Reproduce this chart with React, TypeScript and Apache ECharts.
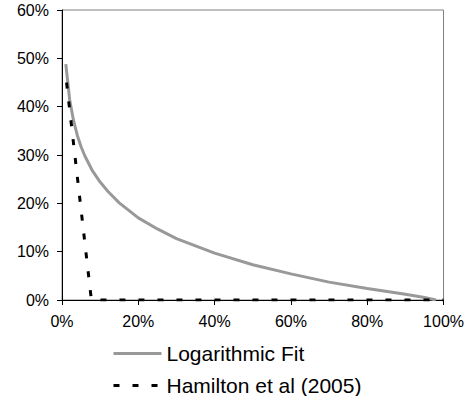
import React, { useEffect, useRef } from "react";
import * as echarts from "echarts";

const xTicks = [0, 20, 40, 60, 80, 100];
const yTicks = [0, 10, 20, 30, 40, 50, 60];

const logFitX = [1, 2, 3, 4, 5, 6, 8, 10, 12, 15, 20, 25, 30, 40, 50, 60, 70, 80, 90, 95, 98];
const logFitY = [48.8, 41.5, 37.2, 34.1, 31.7, 29.8, 26.7, 24.4, 22.5, 20.1, 17.0, 14.7, 12.7, 9.7, 7.3, 5.4, 3.7, 2.4, 1.2, 0.5, 0];

const hamiltonX = [1.2, 7.7, 100];
const hamiltonY = [45, 0, 0];

const seriesNames = ["Logarithmic Fit", "Hamilton et al (2005)"];

const FONT = "Arial, 'Liberation Sans', sans-serif";

function legendFor(name: string, top: number) {
  return {
    orient: "vertical",
    left: 107,
    top,
    itemWidth: 48,
    itemHeight: 14,
    itemGap: 0,
    itemStyle: { opacity: 0 },
    lineStyle: { width: 3 },
    textStyle: { fontSize: 21, fontFamily: FONT, color: "#000" },
    data: [name],
  };
}

export default function App() {
  const ref = useRef<HTMLDivElement>(null);
  useEffect(() => {
    if (!ref.current) return;
    const chart = echarts.init(ref.current, undefined, { renderer: "svg" });
    chart.setOption({
      animation: false,
      backgroundColor: "#ffffff",
      grid: {
        left: 62,
        right: 18,
        top: 10,
        bottom: 96,
        show: true,
        borderColor: "#808080",
        borderWidth: 1,
      },
      xAxis: {
        type: "value",
        min: xTicks[0],
        max: xTicks[xTicks.length - 1],
        interval: 20,
        axisLine: { show: true, lineStyle: { color: "#000", width: 1 } },
        axisTick: { show: true, length: 5, lineStyle: { color: "#000" } },
        splitLine: { show: false },
        axisLabel: {
          formatter: "{value}%",
          color: "#000",
          fontSize: 16,
          fontFamily: FONT,
          margin: 13,
        },
      },
      yAxis: {
        type: "value",
        min: yTicks[0],
        max: yTicks[yTicks.length - 1],
        interval: 10,
        axisLine: { show: true, lineStyle: { color: "#000", width: 1 } },
        axisTick: { show: true, length: 5, lineStyle: { color: "#000" } },
        splitLine: { show: false },
        axisLabel: {
          formatter: "{value}%",
          color: "#000",
          fontSize: 16,
          fontFamily: FONT,
          margin: 13,
        },
      },
      legend: [legendFor(seriesNames[0], 338), legendFor(seriesNames[1], 370)],
      series: [
        {
          name: seriesNames[0],
          type: "line",
          showSymbol: false,
          symbol: "none",
          data: logFitX.map((x, i) => [x, logFitY[i]]),
          lineStyle: { color: "#999999", width: 3 },
          itemStyle: { color: "#999999" },
          z: 2,
        },
        {
          name: seriesNames[1],
          type: "line",
          showSymbol: false,
          symbol: "none",
          data: hamiltonX.map((x, i) => [x, hamiltonY[i]]),
          lineStyle: { color: "#000000", width: 3, type: [6, 13] },
          itemStyle: { color: "#000000" },
          z: 3,
        },
      ],
    });
    return () => chart.dispose();
  }, []);
  return (
    <div
      ref={ref}
      style={{ position: "fixed", left: 0, top: 0, width: 467, height: 396, background: "#fff" }}
    />
  );
}
